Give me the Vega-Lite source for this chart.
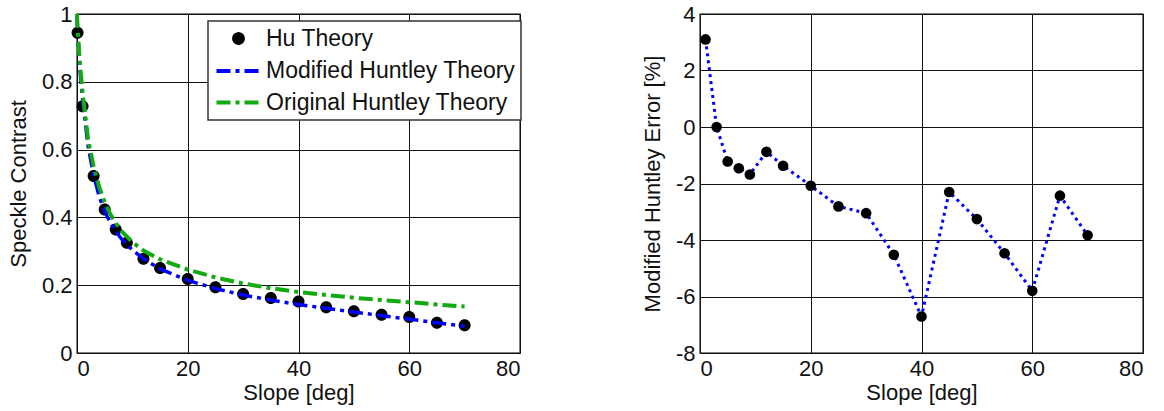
{
  "$schema": "https://vega.github.io/schema/vega-lite/v6.json",
  "background": "white",
  "padding": {"left": 6, "top": 2, "right": 5, "bottom": 5},
  "spacing": 180,
  "bounds": "flush",
  "config": {
    "font": "Liberation Sans",
    "view": {"stroke": "#555555", "strokeWidth": 1.5},
    "axis": {
      "labelFont": "Liberation Sans", "titleFont": "Liberation Sans",
      "labelFontSize": 22, "titleFontSize": 22, "titleFontWeight": "normal",
      "labelColor": "#111111", "titleColor": "#111111",
      "grid": true, "gridColor": "#111111", "gridWidth": 1,
      "ticks": false, "domain": false, "labelPadding": 5
    },
    "axisX": {"titlePadding": 3},
    "axisY": {"titlePadding": 11},
    "legend": {"strokeWidth": 1.5}
  },
  "datasets": {
    "hu": [
      {"slope": 0.1, "c": 0.945, "series": "Hu Theory"},
      {"slope": 1, "c": 0.728, "series": "Hu Theory"},
      {"slope": 3, "c": 0.522, "series": "Hu Theory"},
      {"slope": 5, "c": 0.423, "series": "Hu Theory"},
      {"slope": 7, "c": 0.364, "series": "Hu Theory"},
      {"slope": 9, "c": 0.325, "series": "Hu Theory"},
      {"slope": 12, "c": 0.278, "series": "Hu Theory"},
      {"slope": 15, "c": 0.251, "series": "Hu Theory"},
      {"slope": 20, "c": 0.218, "series": "Hu Theory"},
      {"slope": 25, "c": 0.194, "series": "Hu Theory"},
      {"slope": 30, "c": 0.174, "series": "Hu Theory"},
      {"slope": 35, "c": 0.162, "series": "Hu Theory"},
      {"slope": 40, "c": 0.152, "series": "Hu Theory"},
      {"slope": 45, "c": 0.135, "series": "Hu Theory"},
      {"slope": 50, "c": 0.123, "series": "Hu Theory"},
      {"slope": 55, "c": 0.113, "series": "Hu Theory"},
      {"slope": 60, "c": 0.106, "series": "Hu Theory"},
      {"slope": 65, "c": 0.089, "series": "Hu Theory"},
      {"slope": 70, "c": 0.082, "series": "Hu Theory"}
    ],
    "curves": [
      {"slope": 0, "c": 1.0, "series": "Modified Huntley Theory"},
      {"slope": 0.1, "c": 0.95, "series": "Modified Huntley Theory"},
      {"slope": 0.5, "c": 0.84, "series": "Modified Huntley Theory"},
      {"slope": 1, "c": 0.75, "series": "Modified Huntley Theory"},
      {"slope": 2, "c": 0.61, "series": "Modified Huntley Theory"},
      {"slope": 3, "c": 0.525, "series": "Modified Huntley Theory"},
      {"slope": 4, "c": 0.462, "series": "Modified Huntley Theory"},
      {"slope": 5, "c": 0.418, "series": "Modified Huntley Theory"},
      {"slope": 6, "c": 0.385, "series": "Modified Huntley Theory"},
      {"slope": 7, "c": 0.359, "series": "Modified Huntley Theory"},
      {"slope": 8, "c": 0.337, "series": "Modified Huntley Theory"},
      {"slope": 9, "c": 0.319, "series": "Modified Huntley Theory"},
      {"slope": 10, "c": 0.304, "series": "Modified Huntley Theory"},
      {"slope": 12, "c": 0.278, "series": "Modified Huntley Theory"},
      {"slope": 15, "c": 0.248, "series": "Modified Huntley Theory"},
      {"slope": 20, "c": 0.214, "series": "Modified Huntley Theory"},
      {"slope": 25, "c": 0.19, "series": "Modified Huntley Theory"},
      {"slope": 30, "c": 0.171, "series": "Modified Huntley Theory"},
      {"slope": 35, "c": 0.156, "series": "Modified Huntley Theory"},
      {"slope": 40, "c": 0.143, "series": "Modified Huntley Theory"},
      {"slope": 45, "c": 0.132, "series": "Modified Huntley Theory"},
      {"slope": 50, "c": 0.121, "series": "Modified Huntley Theory"},
      {"slope": 55, "c": 0.11, "series": "Modified Huntley Theory"},
      {"slope": 60, "c": 0.1, "series": "Modified Huntley Theory"},
      {"slope": 65, "c": 0.089, "series": "Modified Huntley Theory"},
      {"slope": 70, "c": 0.079, "series": "Modified Huntley Theory"},
      {"slope": 0, "c": 1.0, "series": "Original Huntley Theory"},
      {"slope": 0.1, "c": 0.96, "series": "Original Huntley Theory"},
      {"slope": 0.5, "c": 0.86, "series": "Original Huntley Theory"},
      {"slope": 1, "c": 0.77, "series": "Original Huntley Theory"},
      {"slope": 2, "c": 0.63, "series": "Original Huntley Theory"},
      {"slope": 3, "c": 0.55, "series": "Original Huntley Theory"},
      {"slope": 4, "c": 0.49, "series": "Original Huntley Theory"},
      {"slope": 5, "c": 0.445, "series": "Original Huntley Theory"},
      {"slope": 6, "c": 0.41, "series": "Original Huntley Theory"},
      {"slope": 7, "c": 0.383, "series": "Original Huntley Theory"},
      {"slope": 8, "c": 0.36, "series": "Original Huntley Theory"},
      {"slope": 10, "c": 0.327, "series": "Original Huntley Theory"},
      {"slope": 12, "c": 0.302, "series": "Original Huntley Theory"},
      {"slope": 15, "c": 0.276, "series": "Original Huntley Theory"},
      {"slope": 20, "c": 0.246, "series": "Original Huntley Theory"},
      {"slope": 25, "c": 0.223, "series": "Original Huntley Theory"},
      {"slope": 30, "c": 0.205, "series": "Original Huntley Theory"},
      {"slope": 35, "c": 0.191, "series": "Original Huntley Theory"},
      {"slope": 40, "c": 0.18, "series": "Original Huntley Theory"},
      {"slope": 45, "c": 0.171, "series": "Original Huntley Theory"},
      {"slope": 50, "c": 0.163, "series": "Original Huntley Theory"},
      {"slope": 55, "c": 0.156, "series": "Original Huntley Theory"},
      {"slope": 60, "c": 0.15, "series": "Original Huntley Theory"},
      {"slope": 65, "c": 0.143, "series": "Original Huntley Theory"},
      {"slope": 70, "c": 0.137, "series": "Original Huntley Theory"}
    ],
    "err": [
      {"slope": 1, "e": 3.1},
      {"slope": 3, "e": 0.0},
      {"slope": 5, "e": -1.22},
      {"slope": 7, "e": -1.46},
      {"slope": 9, "e": -1.68},
      {"slope": 12, "e": -0.88},
      {"slope": 15, "e": -1.37},
      {"slope": 20, "e": -2.08},
      {"slope": 25, "e": -2.81},
      {"slope": 30, "e": -3.05},
      {"slope": 35, "e": -4.52},
      {"slope": 40, "e": -6.71},
      {"slope": 45, "e": -2.3},
      {"slope": 50, "e": -3.26},
      {"slope": 55, "e": -4.47},
      {"slope": 60, "e": -5.8},
      {"slope": 65, "e": -2.43},
      {"slope": 70, "e": -3.83}
    ]
  },
  "hconcat": [
    {
      "width": 443,
      "height": 339,
      "encoding": {
        "x": {"field": "slope", "type": "quantitative", "title": "Slope [deg]",
              "scale": {"domain": [0, 80], "nice": false},
              "axis": {"values": [0, 20, 40, 60, 80], "labelExpr": "'' + datum.value"}},
        "y": {"field": "c", "type": "quantitative", "title": "Speckle Contrast",
              "scale": {"domain": [0, 1], "nice": false},
              "axis": {"values": [0, 0.2, 0.4, 0.6, 0.8, 1], "labelExpr": "'' + datum.value"}}
      },
      "layer": [
        {
          "data": {"name": "hu"},
          "mark": {"type": "point", "filled": true, "size": 744, "opacity": 1},
          "encoding": {
            "color": {"field": "series", "type": "nominal",
                      "scale": {"domain": ["Hu Theory", "Modified Huntley Theory", "Original Huntley Theory"], "range": ["#000000", "#0000ff", "#11aa11"]},
                      "legend": {"orient": "none", "legendX": 131, "legendY": 7, "title": null, "fillColor": "white", "strokeColor": "#333333",
                                 "padding": 5.5, "labelFontSize": 23, "labelFont": "Liberation Sans", "labelColor": "#111111",
                                 "symbolSize": 400, "symbolStrokeWidth": 4, "symbolOffset": 13, "labelOffset": 15.5, "rowPadding": 7.5, "labelLimit": 400}},
            "shape": {"field": "series", "type": "nominal",
                      "scale": {"domain": ["Hu Theory", "Modified Huntley Theory", "Original Huntley Theory"],
                                "range": ["M-0.44,0A0.44,0.44,0,1,1,0.44,0A0.44,0.44,0,1,1,-0.44,0Z", "M-2.2,0L2.2,0", "M-2.2,0L2.2,0"]}}
          }
        },
        {
          "data": {"name": "curves"},
          "transform": [{"filter": "datum.series == 'Modified Huntley Theory'"}],
          "mark": {"type": "line", "strokeWidth": 3.5},
          "encoding": {
            "color": {"field": "series", "type": "nominal"},
            "strokeDash": {"field": "series", "type": "nominal",
                           "scale": {"domain": ["Hu Theory", "Modified Huntley Theory", "Original Huntley Theory"], "range": [[1, 0], [14, 5, 4, 5], [14, 5, 4, 5]]}}
          }
        },
        {
          "data": {"name": "curves"},
          "transform": [{"filter": "datum.series == 'Original Huntley Theory'"}],
          "mark": {"type": "line", "strokeWidth": 4},
          "encoding": {
            "color": {"field": "series", "type": "nominal"},
            "strokeDash": {"field": "series", "type": "nominal"}
          }
        }
      ]
    },
    {
      "width": 443,
      "height": 339,
      "data": {"name": "err"},
      "encoding": {
        "x": {"field": "slope", "type": "quantitative", "title": "Slope [deg]",
              "scale": {"domain": [0, 80], "nice": false},
              "axis": {"values": [0, 20, 40, 60, 80], "labelExpr": "'' + datum.value"}},
        "y": {"field": "e", "type": "quantitative", "title": "Modified Huntley Error [%]",
              "scale": {"domain": [-8, 4], "nice": false},
              "axis": {"values": [-8, -6, -4, -2, 0, 2, 4], "labelExpr": "'' + datum.value", "titlePadding": 11}}
      },
      "layer": [
        {"mark": {"type": "line", "color": "#0000ff", "strokeWidth": 3, "strokeDash": [3, 4]}},
        {"mark": {"type": "circle", "color": "#000000", "size": 113, "opacity": 1}}
      ]
    }
  ]
}
